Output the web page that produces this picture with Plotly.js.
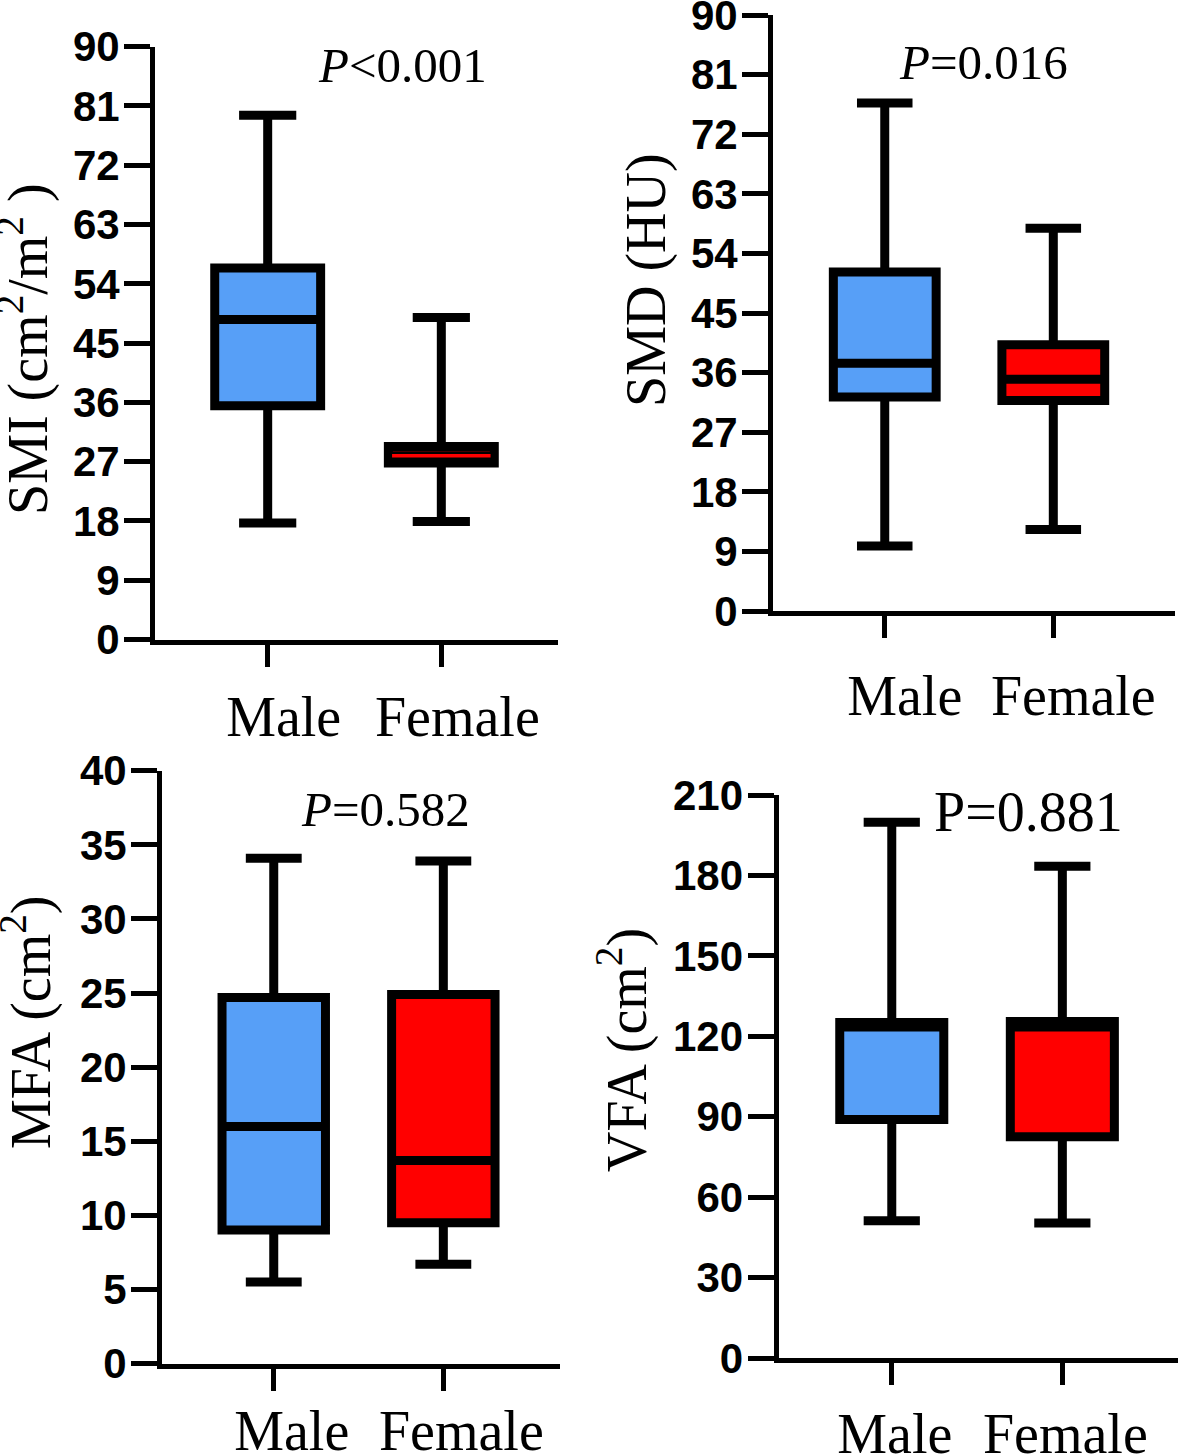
<!DOCTYPE html>
<html>
<head>
<meta charset="utf-8">
<script src="https://cdn.plot.ly/plotly-3.0.1.min.js"></script>
<style>html,body{margin:0;padding:0;background:#fff;}#chart{width:1180px;height:1456px;}</style>
</head>
<body>
<div id="chart"></div>
<script>
// ---------------- DATA ----------------
const categories = ['Male', 'Female'];
const groupColors = ['#579ff7', '#ff0000'];

// SMI (cm2/m2)
const smiLower  = [17.7, 17.9];
const smiQ1     = [35.5, 26.8];
const smiMedian = [48.6, 27.9];
const smiQ3     = [56.4, 29.3];
const smiUpper  = [79.6, 48.9];

// SMD (HU)
const smdLower  = [9.8, 12.3];
const smdQ1     = [32.3, 31.8];
const smdMedian = [37.4, 35.0];
const smdQ3     = [51.2, 40.2];
const smdUpper  = [76.7, 57.8];

// MFA (cm2)
const mfaLower  = [5.5, 6.7];
const mfaQ1     = [9.0, 9.5];
const mfaMedian = [16.0, 13.7];
const mfaQ3     = [24.7, 24.9];
const mfaUpper  = [34.1, 33.9];

// VFA (cm2)
const vfaLower  = [51.2, 50.4];
const vfaQ1     = [89.0, 82.5];
const vfaMedian = [123.5, 123.5];
const vfaQ3     = [125.1, 125.5];
const vfaUpper  = [199.8, 183.4];

const yTitles = ['SMI (cm<sup>2</sup>/m<sup>2</sup> )', 'SMD (HU)', 'MFA (cm<sup>2</sup>)', 'VFA (cm<sup>2</sup>)'];
const pTexts  = ['<i>P</i>&lt;0.001', '<i>P</i>=0.016', '<i>P</i>=0.582', 'P=0.881'];
const yMax    = [90, 90, 40, 210];
const yStep   = [9, 9, 5, 30];

// ---------------- LAYOUT GEOMETRY (pixels) ----------------
const W = 1180, H = 1456;
const fx = v => v / W;
const fy = v => 1 - v / H;

const panels = [
  {xl:155, xr:558, yt:46.7, yb:639.5, xmin:-0.649, xmax:1.672, shift:16, stand:2,
   tX:24, tY:349, pX:402, pY:66, pSize:49},
  {xl:773, xr:1175, yt:15, yb:611, xmin:-0.663, xmax:1.722, shift:20, stand:10,
   tX:646, tY:280, pX:983, pY:63, pSize:49},
  {xl:162, xr:560, yt:770.7, yb:1363.5, xmin:-0.659, xmax:1.688, shift:18, stand:-8,
   tX:27, tY:1023, pX:385, pY:809, pSize:49},
  {xl:778.5, xr:1178, yt:795, yb:1358, xmin:-0.664, xmax:1.678, shift:3, stand:1,
   tX:623, tY:1050, pX:1028, pY:812, pSize:56}
];

const stats = [
  [smiLower, smiQ1, smiMedian, smiQ3, smiUpper],
  [smdLower, smdQ1, smdMedian, smdQ3, smdUpper],
  [mfaLower, mfaQ1, mfaMedian, mfaQ3, mfaUpper],
  [vfaLower, vfaQ1, vfaMedian, vfaQ3, vfaUpper]
];

const BOX_W = 0.61;
const traces = [];
const layout = {
  width: W, height: H,
  margin: {l:0, r:0, t:0, b:0},
  paper_bgcolor: '#ffffff', plot_bgcolor: 'rgba(0,0,0,0)',
  showlegend: false,
  boxmode: 'overlay',
  annotations: [],
  shapes: []
};

const serif = 'Liberation Serif, Times New Roman, serif';
const sans = 'Liberation Sans, Arial, sans-serif';

panels.forEach((p, k) => {
  const n = k === 0 ? '' : String(k + 1);
  const xa = 'x' + n, ya = 'y' + n;
  const [lo, q1, med, q3, up] = stats[k];
  categories.forEach((c, i) => {
    traces.push({
      type: 'box', xaxis: xa, yaxis: ya,
      x: [c], lowerfence: [lo[i]], q1: [q1[i]], median: [med[i]], q3: [q3[i]], upperfence: [up[i]],
      fillcolor: groupColors[i],
      line: {color: '#000000', width: 9},
      width: BOX_W, whiskerwidth: 0.54,
      boxpoints: false, hoverinfo: 'skip', showlegend: false, name: c
    });
  });
  layout['xaxis' + n] = {
    domain: [fx(p.xl), fx(p.xr)], anchor: ya,
    type: 'category', categoryorder: 'array', categoryarray: categories,
    range: [p.xmin, p.xmax],
    showline: true, linecolor: '#000', linewidth: 5,
    ticks: 'outside', ticklen: 22, tickwidth: 5, tickcolor: '#000',
    showgrid: false, zeroline: false, fixedrange: true,
    tickfont: {family: serif, size: 56, color: '#000'},
    ticklabelshift: p.shift, ticklabelstandoff: p.stand,
    ticklabeloverflow: 'allow'
  };
  layout['yaxis' + n] = {
    domain: [fy(p.yb), fy(p.yt)], anchor: xa,
    range: [0, yMax[k]], tick0: 0, dtick: yStep[k],
    showline: true, linecolor: '#000', linewidth: 5,
    ticks: 'outside', ticklen: 26, tickwidth: 5, tickcolor: '#000',
    showgrid: false, zeroline: false, fixedrange: true,
    tickfont: {family: sans, size: 42, color: '#000', weight: 'bold'},
    ticklabelstandoff: -4,
    ticklabeloverflow: 'allow'
  };
  layout.annotations.push({
    xref: 'paper', yref: 'paper', x: fx(p.tX), y: fy(p.tY),
    text: yTitles[k], textangle: -90, showarrow: false,
    xanchor: 'center', yanchor: 'middle',
    font: {family: serif, size: 56, color: '#000'}
  });
  layout.annotations.push({
    xref: 'paper', yref: 'paper', x: fx(p.pX), y: fy(p.pY),
    text: pTexts[k], showarrow: false,
    xanchor: 'center', yanchor: 'middle',
    font: {family: serif, size: p.pSize, color: '#000'}
  });
});

// The female SMI box is so narrow that only a thin strip of its red fill shows at the median
const fi = 1;
layout.shapes.push({
  type: 'line', xref: 'x', yref: 'y',
  x0: fi - BOX_W * 0.465, x1: fi + BOX_W * 0.465,
  y0: smiMedian[fi], y1: smiMedian[fi],
  line: {color: groupColors[fi], width: 3.5}, layer: 'above'
});

Plotly.newPlot('chart', traces, layout, {staticPlot: true, displayModeBar: false});
</script>
</body>
</html>
